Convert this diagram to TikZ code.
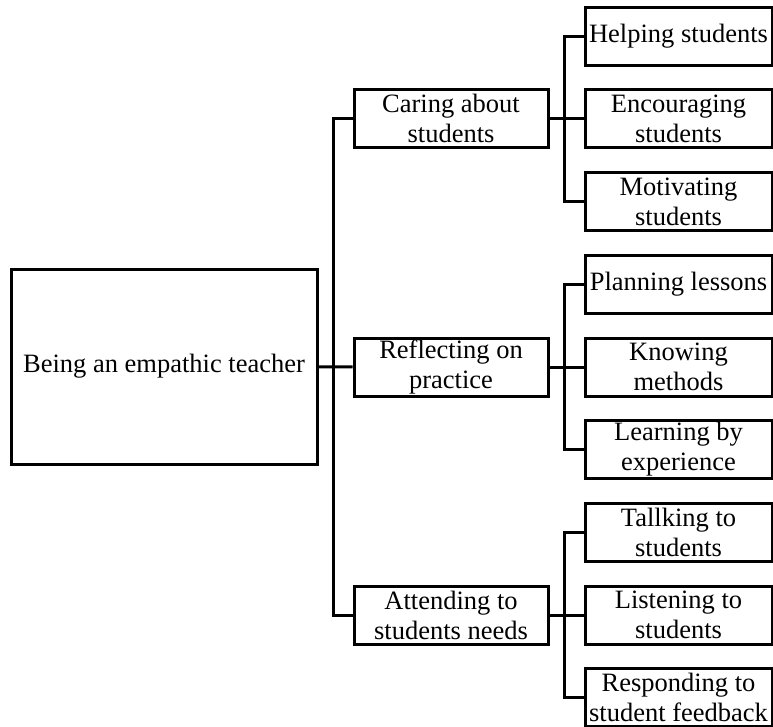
\documentclass[tikz,border=0pt]{standalone}
\usepackage{fontspec}
\setmainfont{Liberation Serif}

\tikzset{
  rootbox/.style={draw, line width=3pt, minimum width=306pt, minimum height=195pt, inner sep=0pt},
  branchbox/.style={draw, line width=3pt, minimum width=194pt, minimum height=58pt, inner sep=0pt, align=center},
  leafbox/.style={draw, line width=3pt, minimum width=187pt, minimum height=58pt, inner sep=0pt, align=center},
  link/.style={line width=3pt}
}

\begin{document}
\begin{tikzpicture}[x=1pt, y=-1pt, every node/.style={font=\fontsize{26.5}{30}\selectfont}]
        \useasboundingbox (0,0) rectangle (773,726);

        %%%%%%%%%% Radice %%%%%%%%%%
        \node[rootbox] (root) at (164,366.5) {Being an empathic teacher};

        %%%%%%%%%% Rami %%%%%%%%%%%
        \node[branchbox] (caring) at (451,118.5) {Caring about\\students};
        \node[branchbox] (reflect) at (451,367) {Reflecting on\\practice};
        \node[branchbox] (attend) at (451,615) {Attending to\\students needs};

        %%%%%%%%%% Foglie %%%%%%%%%%
        \node[leafbox] (help) at (678.5,36) {Helping students};
        \node[leafbox] (encour) at (678.5,118.5) {Encouraging\\students};
        \node[leafbox] (motiv) at (678.5,201.5) {Motivating\\students};
        \node[leafbox] (plan) at (678.5,284) {Planning lessons};
        \node[leafbox] (know) at (678.5,367) {Knowing\\methods};
        \node[leafbox] (learn) at (678.5,449.5) {Learning by\\experience};
        \node[leafbox] (talk) at (678.5,532) {Tallking to\\students};
        \node[leafbox] (listen) at (678.5,615) {Listening to\\students};
        \node[leafbox] (respond) at (678.5,697) {Responding to\\student feedback};

        %%%%%%%% Collegamenti %%%%%%%%
        \draw[link] (root) -- (reflect);
        \draw[link] (caring.west) -- ++(-19,0) |- (attend.west);

        \foreach \b/\t/\m/\e in {caring/help/encour/motiv, reflect/plan/know/learn, attend/talk/listen/respond} {
            \draw[link] (\b) -- (\m);
            \draw[link] (\t.west) -- ++(-19,0) |- (\e.west);
        }
\end{tikzpicture}
\end{document}
